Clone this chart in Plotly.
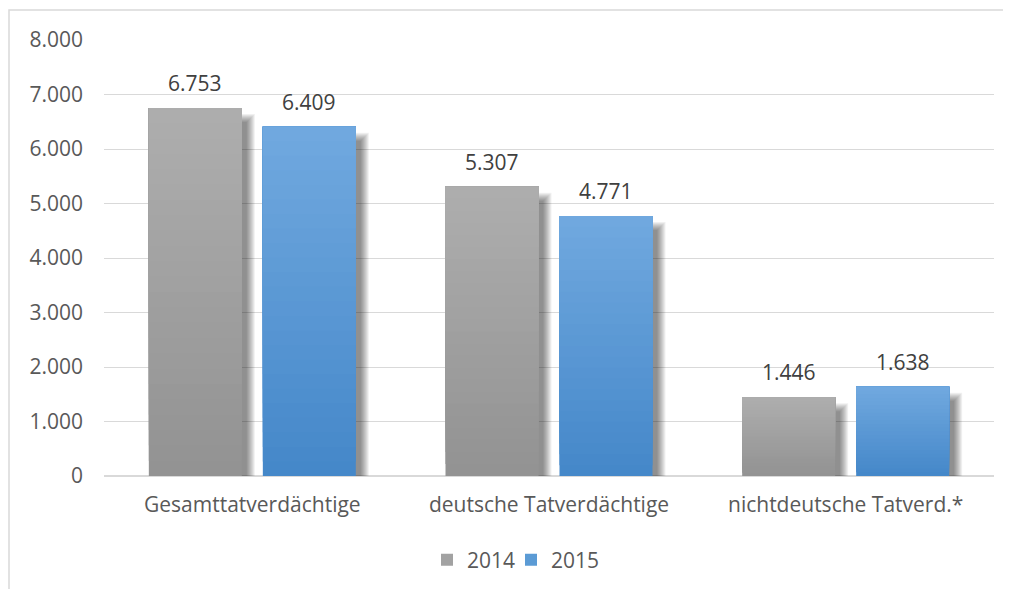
import plotly.graph_objects as go

# ---- data ----
categories = ["Gesamttatverdächtige", "deutsche Tatverdächtige", "nichtdeutsche Tatverd.*"]
years = ["2014", "2015"]
values_2014 = [6753, 5307, 1446]
values_2015 = [6409, 4771, 1638]
y_ticks = [0, 1000, 2000, 3000, 4000, 5000, 6000, 7000, 8000]

# ---- style / geometry ----
PAGE_OFF = 8  # default body margin of the html page
W, H = 1011 - PAGE_OFF, 589 - PAGE_OFF
M_L, M_R, M_T, M_B = 104 - PAGE_OFF, 17, 40 - PAGE_OFF, 113
PLOT_W = W - M_L - M_R
PLOT_H = H - M_T - M_B
Y_MAX = 8000
PX_PER_CAT = PLOT_W / len(categories)
PX_PER_UNIT = PLOT_H / Y_MAX

BAR_W = 93 / PX_PER_CAT
OFFSETS = [-103.5 / PX_PER_CAT, 10.5 / PX_PER_CAT]

TOP_COLORS = [(174, 174, 174), (113, 169, 223)]
BOT_COLORS = [(146, 146, 146), (68, 135, 201)]
LEGEND_COLORS = ["#a2a2a2", "#5b9bd5"]
N_SEG = 24

SH_DX, SH_DY = 9, 10
SH_LAYERS = [-4, -3, -2, -1, 0, 1, 2, 3, 4]
SH_ALPHA = 0.058

FONT = "Open Sans"
FS = 21
TXT = "#595959"
LBL = "#404040"
GRID = "#d9d9d9"

LEG_X = [419, 503]   # px (figure coords) of each legend box
LEG_Y = 552

series = [values_2014, values_2015]
xs = list(range(len(categories)))

fig = go.Figure()

# shadows
for s, vals in enumerate(series):
    for d in SH_LAYERS:
        fig.add_trace(go.Bar(
            x=xs,
            y=[v - (SH_DY - d) / PX_PER_UNIT for v in vals],
            base=0,
            width=BAR_W + 2 * d / PX_PER_CAT,
            offset=OFFSETS[s] + (SH_DX - d) / PX_PER_CAT,
            marker=dict(color=f"rgba(0,0,0,{SH_ALPHA})", line=dict(width=0)),
            showlegend=False, hoverinfo="skip",
        ))

# gradient bars (overlapping slices, each reaching the bar top)
def mix(a, b, t):
    return "rgb(%d,%d,%d)" % tuple(round(a[i] + (b[i] - a[i]) * t) for i in range(3))

for s, vals in enumerate(series):
    for k in range(N_SEG):
        t = (k + 0.5) / N_SEG  # 0 bottom -> 1 top
        fig.add_trace(go.Bar(
            x=xs,
            y=[v * (N_SEG - k) / N_SEG for v in vals],
            base=[v * k / N_SEG for v in vals],
            width=BAR_W,
            offset=OFFSETS[s],
            marker=dict(color=mix(BOT_COLORS[s], TOP_COLORS[s], t), line=dict(width=0)),
            showlegend=False, hoverinfo="skip",
        ))

# legend entries (one legend box each, for exact placement)
legend_ids = ["legend", "legend2"]
for s, name in enumerate(years):
    fig.add_trace(go.Bar(
        x=[None], y=[None], name=name,
        marker=dict(color=LEGEND_COLORS[s], line=dict(width=0)),
        showlegend=True, legend=legend_ids[s],
    ))

# data labels
def de(v):
    return f"{v:,}".replace(",", ".")

for s, vals in enumerate(series):
    for i, v in enumerate(vals):
        fig.add_annotation(
            x=i + OFFSETS[s] + BAR_W / 2, y=v, xref="x", yref="y",
            text=de(v), showarrow=False, yanchor="bottom", yshift=9,
            font=dict(family=FONT, size=FS, color=LBL),
        )

# chart area border
fig.add_shape(
    type="rect", xref="paper", yref="paper",
    x0=(1 - M_L) / PLOT_W, x1=1.2,
    y0=-0.5, y1=(H - M_B - 2) / PLOT_H,
    line=dict(color=GRID, width=1.5), fillcolor="rgba(0,0,0,0)", layer="below",
)

def leg(xpx):
    return dict(
        orientation="h", xref="container", yref="container",
        x=xpx / W, xanchor="left", y=(H - LEG_Y) / H, yanchor="middle",
        font=dict(family=FONT, size=FS, color=TXT), bgcolor="rgba(0,0,0,0)",
    )

fig.update_layout(
    width=W, height=H,
    margin=dict(l=M_L, r=M_R, t=M_T, b=M_B, autoexpand=False),
    paper_bgcolor="white", plot_bgcolor="white",
    barmode="overlay",
    separators=",.",
    font=dict(family=FONT, size=FS, color=TXT),
    showlegend=True,
    legend=leg(LEG_X[0]),
    legend2=leg(LEG_X[1]),
    xaxis=dict(
        range=[-0.5, len(categories) - 0.5],
        tickvals=xs, ticktext=categories,
        showgrid=False, zeroline=False, showline=False,
        ticks="", ticklabelstandoff=14,
        tickfont=dict(family=FONT, size=FS, color=TXT),
        fixedrange=True,
    ),
    yaxis=dict(
        range=[0, Y_MAX], tickvals=y_ticks, tickformat=",d",
        showgrid=True, gridcolor=GRID, gridwidth=1,
        zeroline=True, zerolinecolor=GRID, zerolinewidth=1.5,
        showline=False, ticks="", ticklabelstandoff=20,
        tickfont=dict(family=FONT, size=FS, color=TXT),
        fixedrange=True,
    ),
)

fig.write_html("out.html")
